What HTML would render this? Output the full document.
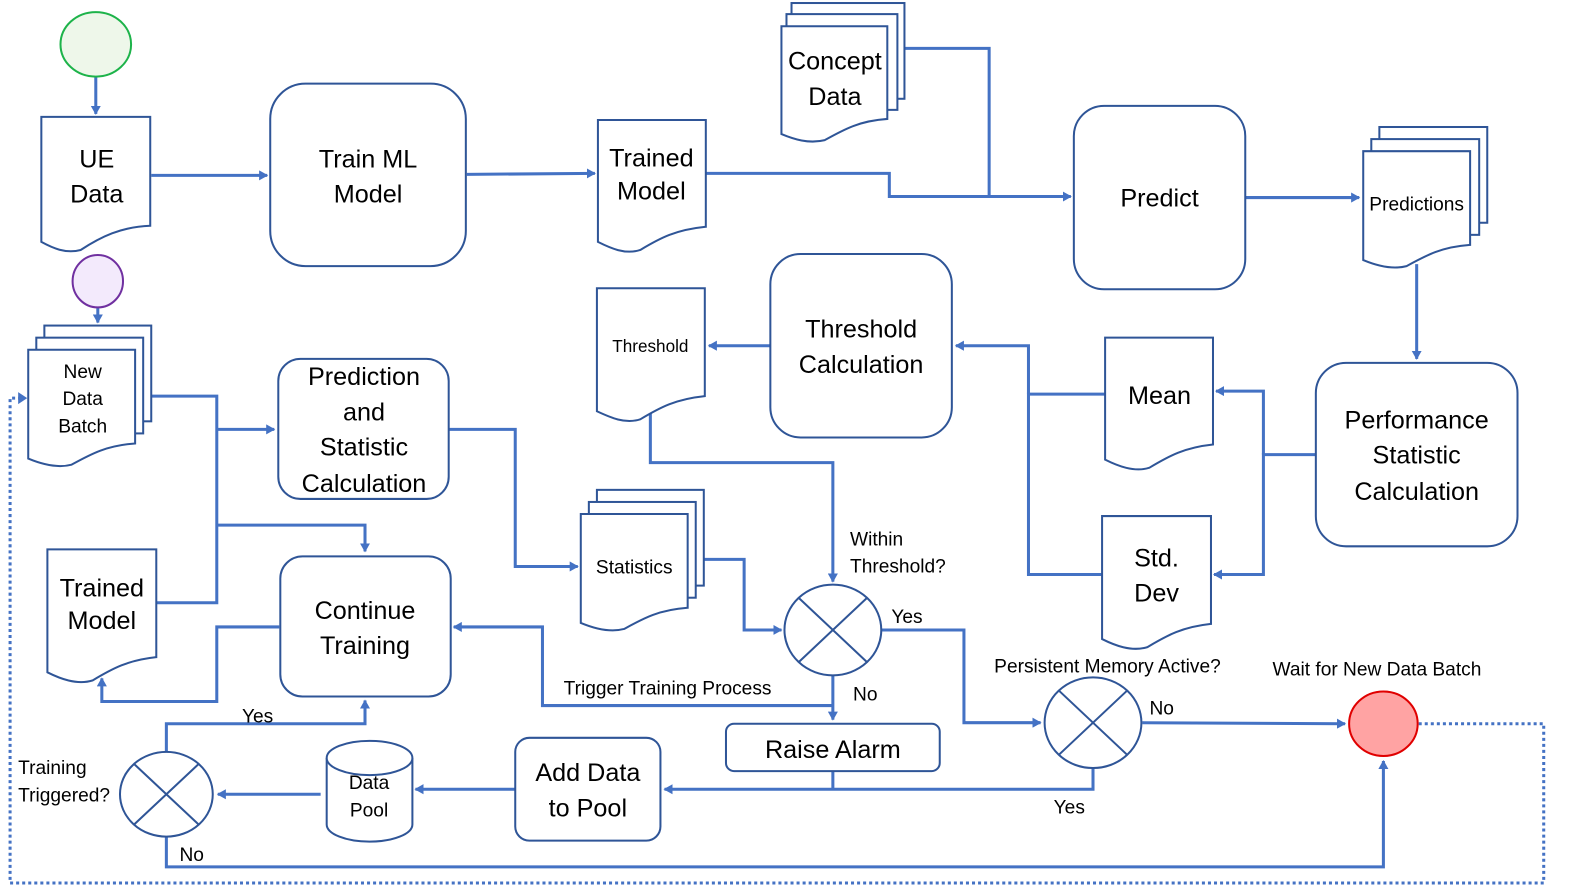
<!DOCTYPE html>
<html><head><meta charset="utf-8"><style>
html,body{margin:0;padding:0;background:#fff;}
svg{display:block;}
text{font-family:"Liberation Sans",sans-serif;fill:#000;}
</style></head><body>
<svg width="1578" height="888" viewBox="0 0 1565 881" preserveAspectRatio="none" xmlns="http://www.w3.org/2000/svg">
<defs>
<marker id="a" markerWidth="10" markerHeight="10" refX="8" refY="5" orient="auto" markerUnits="userSpaceOnUse">
<path d="M0,0 L9,5 L0,10 Z" fill="#4472c4"/></marker>
</defs>
<g fill="none" stroke="#4472c4" stroke-width="3">
<path d="M95,76 V113" marker-end="url(#a)"/>
<path d="M150,174 H265" marker-end="url(#a)"/>
<path d="M463,173 L590,172" marker-end="url(#a)"/>
<path d="M700,172 H882 V195 H1062" marker-end="url(#a)"/>
<path d="M897,48 H981 V195"/>
<path d="M1235,196 H1348" marker-end="url(#a)"/>
<path d="M1405,262 V356" marker-end="url(#a)"/>
<path d="M1305,451 H1253 V570 H1204" marker-end="url(#a)"/>
<path d="M1253,451 V388 H1206" marker-end="url(#a)"/>
<path d="M1096,391 H1020 V570 H1093"/>
<path d="M1020,391 V343 H948" marker-end="url(#a)"/>
<path d="M764,343 H703" marker-end="url(#a)"/>
<path d="M645,408 V459 H826 V577" marker-end="url(#a)"/>
<path d="M874,625 H956 V717 H1032" marker-end="url(#a)"/>
<path d="M826,670 V714" marker-end="url(#a)"/>
<path d="M1133,717 L1334,718" marker-end="url(#a)"/>
<path d="M826,765 V783"/>
<path d="M1084,762 V783 H659" marker-end="url(#a)"/>
<path d="M511,783 H412" marker-end="url(#a)"/>
<path d="M318,788 H216" marker-end="url(#a)"/>
<path d="M165,746 V718 H362 V695" marker-end="url(#a)"/>
<path d="M165,830 V860 H1372 V755" marker-end="url(#a)"/>
<path d="M826,700 H538 V622 H450" marker-end="url(#a)"/>
<path d="M277,622 H215 V696 H101 V673" marker-end="url(#a)"/>
<path d="M155,598 H215 V393 H150"/>
<path d="M215,426 H272" marker-end="url(#a)"/>
<path d="M215,521 H362 V547" marker-end="url(#a)"/>
<path d="M97,305 V320" marker-end="url(#a)"/>
<path d="M445,426 H511 V562 H573" marker-end="url(#a)"/>
<path d="M698,555 H738 V625 H775" marker-end="url(#a)"/>
</g>
<g fill="none" stroke="#4472c4" stroke-width="3" stroke-dasharray="3,3">
<path d="M1407,718 H1531 V876 H10 V395 H20"/>
</g>
<path d="M18,389 L27,395 L18,401 Z" fill="#4472c4"/>
<g stroke="#2f5597" stroke-width="2" fill="#fff">
<ellipse cx="95" cy="44" rx="35" ry="32" fill="#eef7ea" stroke="#1db34a"/>
<ellipse cx="97" cy="279" rx="25" ry="26" fill="#f3eafc" stroke="#7030a0"/>
<ellipse cx="1372" cy="718" rx="34" ry="32" fill="#ffa3a3" stroke="#e00000"/>
<path d="M41,116 H149 V224 C120,225 100,235 80,248 C65,252 52,246 41,240 Z"/>
<path d="M593,119 H700 V225 C670,228 655,236 635,248 C620,253 605,246 593,240 Z"/>
<path d="M592,286 H699 V393 C670,396 655,404 635,416 C620,421 605,414 592,408 Z"/>
<path d="M1096,335 H1203 V441 C1175,444 1160,452 1140,464 C1125,469 1108,462 1096,456 Z"/>
<path d="M1093,512 H1201 V619 C1173,622 1158,630 1138,642 C1122,647 1105,640 1093,634 Z"/>
<path d="M47,545 H155 V652 C127,655 112,663 92,675 C76,680 59,673 47,667 Z"/>
<rect x="785" y="3" width="112" height="95"/>
<rect x="780" y="14" width="110" height="95"/>
<path d="M775,26 H880 V118 C852,120 838,128 818,139 C802,143 787,138 775,133 Z"/>
<rect x="1368" y="126" width="107" height="95"/>
<rect x="1360" y="138" width="107" height="95"/>
<path d="M1352,150 H1458 V243 C1430,245 1415,253 1395,264 C1380,268 1364,263 1352,258 Z"/>
<rect x="44" y="323" width="106" height="95"/>
<rect x="36" y="335" width="106" height="95"/>
<path d="M28,347 H134 V440 C106,442 91,450 71,461 C56,465 40,460 28,455 Z"/>
<rect x="592" y="486" width="106" height="95"/>
<rect x="584" y="498" width="106" height="95"/>
<path d="M576,510 H682 V603 C654,605 639,613 619,624 C604,628 588,623 576,618 Z"/>
<rect x="268" y="83" width="194" height="181" rx="35"/>
<rect x="1065" y="105" width="170" height="182" rx="30"/>
<rect x="1305" y="360" width="200" height="182" rx="30"/>
<rect x="764" y="252" width="180" height="182" rx="30"/>
<rect x="276" y="356" width="169" height="139" rx="22"/>
<rect x="278" y="552" width="169" height="139" rx="22"/>
<rect x="720" y="718" width="212" height="47" rx="8"/>
<rect x="511" y="732" width="144" height="102" rx="14"/>
<path d="M324,752 V818 A42.5,17 0 0 0 409,818 V752"/>
<ellipse cx="366.5" cy="752" rx="42.5" ry="17"/>
<ellipse cx="826" cy="625" rx="48" ry="45"/>
<path d="M792,593 L860,657 M860,593 L792,657" fill="none"/>
<ellipse cx="1084" cy="717" rx="48" ry="45"/>
<path d="M1050,685 L1118,749 M1118,685 L1050,749" fill="none"/>
<ellipse cx="165" cy="788" rx="46" ry="42"/>
<path d="M133,758 L197,818 M197,758 L133,818" fill="none"/>
</g>
<g text-anchor="middle" font-size="25">
<text x="96" y="166">UE</text><text x="96" y="201">Data</text>
<text x="365" y="166">Train ML</text><text x="365" y="201">Model</text>
<text x="646" y="165">Trained</text><text x="646" y="198">Model</text>
<text x="828" y="69">Concept</text><text x="828" y="104">Data</text>
<text x="1150" y="205">Predict</text>
<text x="1405" y="209" font-size="19">Predictions</text>
<text x="1405" y="425">Performance</text><text x="1405" y="460">Statistic</text><text x="1405" y="496">Calculation</text>
<text x="1150" y="401">Mean</text>
<text x="1147" y="562">Std.</text><text x="1147" y="597">Dev</text>
<text x="854" y="335">Threshold</text><text x="854" y="370">Calculation</text>
<text x="645" y="349" font-size="17">Threshold</text>
<text x="82" y="375" font-size="19">New</text><text x="82" y="402" font-size="19">Data</text><text x="82" y="429" font-size="19">Batch</text>
<text x="361" y="382">Prediction</text><text x="361" y="417">and</text><text x="361" y="452">Statistic</text><text x="361" y="488">Calculation</text>
<text x="629" y="569" font-size="19">Statistics</text>
<text x="101" y="592">Trained</text><text x="101" y="624">Model</text>
<text x="362" y="614">Continue</text><text x="362" y="649">Training</text>
<text x="826" y="752">Raise Alarm</text>
<text x="583" y="775">Add Data</text><text x="583" y="810">to Pool</text>
<text x="366" y="783" font-size="19">Data</text><text x="366" y="810" font-size="19">Pool</text>
</g>
<g font-size="19">
<text x="843" y="541">Within</text><text x="843" y="568">Threshold?</text>
<text x="884" y="618">Yes</text>
<text x="846" y="695">No</text>
<text x="986" y="667">Persistent Memory Active?</text>
<text x="1262" y="670">Wait for New Data Batch</text>
<text x="1140" y="709">No</text>
<text x="1045" y="807">Yes</text>
<text x="559" y="689">Trigger Training Process</text>
<text x="240" y="717">Yes</text>
<text x="18" y="768">Training</text><text x="18" y="795">Triggered?</text>
<text x="178" y="854">No</text>
</g>
</svg>
</body></html>
